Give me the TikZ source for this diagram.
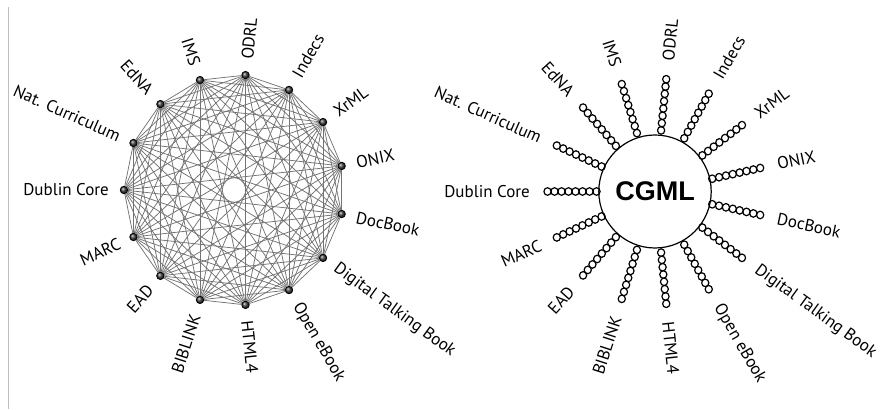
\documentclass[tikz,border=0pt]{standalone}
\usepackage{fontspec}
\setmainfont{PT Sans}
\newfontfamily\hubfont{Liberation Sans}
\usetikzlibrary{shapes.geometric}

\def\ringr{110}
\def\labr{125}

\tikzset{
  ball/.style={circle, draw=black, line width=0.8pt, ball color=black!75, minimum size=7.5pt, inner sep=0pt},
  edge/.style={draw=black!55, line width=0.75pt},
  link/.style={draw=black, line width=1.2pt},
  std/.style={font=\fontsize{17}{20}\selectfont, inner sep=0pt},
  hub/.style={ellipse, draw=black, line width=1.2pt, fill=white, minimum width=108pt, minimum height=113pt, inner sep=0pt, font=\hubfont\bfseries\fontsize{27}{29}\selectfont},
}

\begin{document}
\begin{tikzpicture}[x=1pt, y=1pt]
\useasboundingbox (0,0) rectangle (882,409);

\draw[black!25, line width=1pt] (8,0) -- (8,402);

% ---- point to point: 15 formats, every pair linked ----
\begin{scope}[shift={(234,219)}, yscale=1.05]
\foreach \i/\name/\side/\rot in {0/Dublin Core/east/0, 1/MARC/east/24, 2/EAD/east/48, 3/BIBLINK/east/72,
    4/HTML4/west/276, 5/Open eBook/west/300, 6/Digital Talking Book/west/324, 7/DocBook/west/348,
    8/ONIX/west/12, 9/XrML/west/36, 10/Indecs/west/60, 11/ODRL/west/84,
    12/IMS/east/-72, 13/EdNA/east/-48, 14/Nat. Curriculum/east/-24} {
  \pgfmathsetmacro\ang{180+24*\i}
  \node[ball] (n\i) at (\ang:\ringr) {};
  \node[std, anchor=\side, rotate=\rot] (l\i) at (\ang:\labr) {\name};
}
\foreach \i in {0,...,13} {
  \pgfmathtruncatemacro\k{\i+1}
  \foreach \j in {\k,...,14}
    \draw[edge] (n\i) -- (n\j);
}
\end{scope}

% ---- hub: every format linked to CGML ----
\begin{scope}[shift={(655,217.5)}, yscale=1.05]
\node[hub] (cgml) at (0,0) {CGML};
\foreach \i/\name/\side/\rot in {0/Dublin Core/east/0, 1/MARC/east/24, 2/EAD/east/48, 3/BIBLINK/east/72,
    4/HTML4/west/276, 5/Open eBook/west/300, 6/Digital Talking Book/west/324, 7/DocBook/west/348,
    8/ONIX/west/12, 9/XrML/west/36, 10/Indecs/west/60, 11/ODRL/west/84,
    12/IMS/east/-72, 13/EdNA/east/-48, 14/Nat. Curriculum/east/-24} {
  \pgfmathsetmacro\ang{180+24*\i}
  \foreach \k in {0,...,7}
    \draw[link] (\ang:{58.5+7*\k}) circle (3.6);
  \node[std, anchor=\side, rotate=\rot] (r\i) at (\ang:\labr) {\name};
}
\end{scope}

\end{tikzpicture}
\end{document}
